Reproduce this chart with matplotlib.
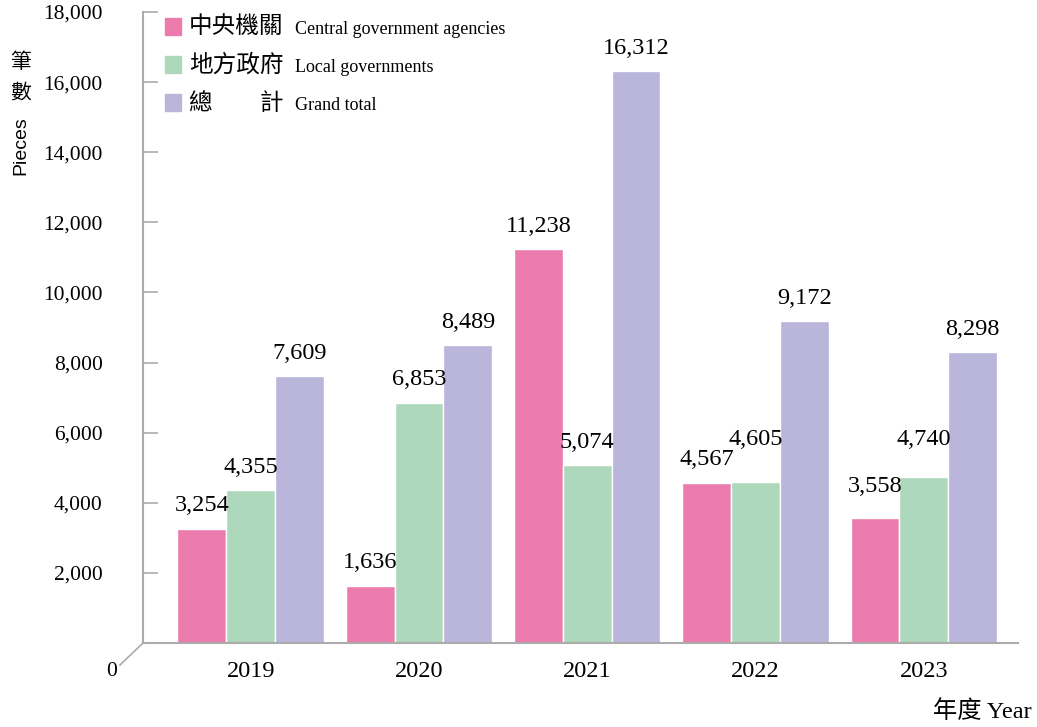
import matplotlib
matplotlib.use("Agg")
import matplotlib.pyplot as plt
from matplotlib.patches import Rectangle
from matplotlib.lines import Line2D
import numpy as np

years = ["2019", "2020", "2021", "2022", "2023"]
central = [3254, 1636, 11238, 4567, 3558]
local = [4355, 6853, 5074, 4605, 4740]
total = [7609, 8489, 16312, 9172, 8298]

series_zh = ["中央機關", "地方政府", "總\u3000\u3000計"]
series_en = ["Central government agencies", "Local governments", "Grand total"]
colors = ["#EC7CAD", "#AED8BB", "#B9B5DB"]

serif = ["Liberation Serif", "Noto Sans CJK TC"]
cjk = ["Noto Sans CJK TC", "Liberation Serif"]
axis_grey = "#ABABAB"

W, H = 1037, 727
fig = plt.figure(figsize=(W / 100, H / 100), dpi=100)
ax = fig.add_axes([143 / W, 1 - 643 / H, 875 / W, 631 / H])

x = np.arange(len(years))
bw = 0.29
# extra lift (points) for labels that would collide with a neighbour
lift = {(1, 3): 14, (1, 4): 10, (0, 4): 6}
for i, (vals, c) in enumerate(zip([central, local, total], colors)):
    xs = x + (i - 1) * bw
    ax.bar(xs, vals, width=bw, color=c, edgecolor="white", linewidth=1.0,
           zorder=2)
    for j, (xx, v) in enumerate(zip(xs, vals)):
        ax.annotate(f"{v:,}", (xx, v), xytext=(0, 9 + lift.get((i, j), 0)),
                    textcoords="offset points", ha="center", va="bottom",
                    fontsize=17.5, family=serif)

ax.set_xlim(-0.64, 4.56)
ax.set_ylim(0, 18000)

yt = np.arange(0, 18001, 2000)
ax.set_yticks(yt)
ax.set_yticklabels(["" if v == 0 else f"{v:,}" for v in yt], fontsize=15.5,
                   family=serif)
ax.tick_params(axis="y", direction="in", length=11, width=1.2,
               color=axis_grey, pad=29)
ax.set_xticks(x)
ax.set_xticklabels(years, fontsize=17.5, family=serif)
ax.tick_params(axis="x", length=0, pad=13)

for s in ["top", "right"]:
    ax.spines[s].set_visible(False)
for s in ["left", "bottom"]:
    ax.spines[s].set_color(axis_grey)
    ax.spines[s].set_linewidth(1.5)

# floor corner and zero label
fig.add_artist(Line2D([143 / W, 120 / W], [1 - 643 / H, 1 - 665 / H],
                      transform=fig.transFigure, color=axis_grey, lw=1.2))
fig.text(112 / W, 1 - 671 / H, "0", fontsize=15.5, family=serif,
         ha="center", va="center")

# legend
for k, (zh, en, c) in enumerate(zip(series_zh, series_en, colors)):
    yc = 27 + k * 38
    fig.add_artist(Rectangle((165 / W, 1 - (yc + 8) / H), 16 / W, 17 / H,
                             transform=fig.transFigure, color=c))
    fig.text(189 / W, 1 - yc / H, zh, fontsize=17, family=cjk,
             ha="left", va="center")
    fig.text(295 / W, 1 - (yc + 2) / H, en, fontsize=13, family=serif,
             ha="left", va="center")

# axis titles
fig.text(21 / W, 1 - 62 / H, "筆", fontsize=15, family=cjk, ha="center", va="center")
fig.text(21 / W, 1 - 93 / H, "數", fontsize=15, family=cjk, ha="center", va="center")
fig.text(21 / W, 1 - 146 / H, "Pieces", fontsize=14, family="Liberation Sans",
         rotation=90, ha="center", va="center")
fig.text(1032 / W, 1 - 712 / H, "年度 Year", fontsize=17.5, family=serif,
         ha="right", va="center")

fig.savefig("out.png", dpi=100)
